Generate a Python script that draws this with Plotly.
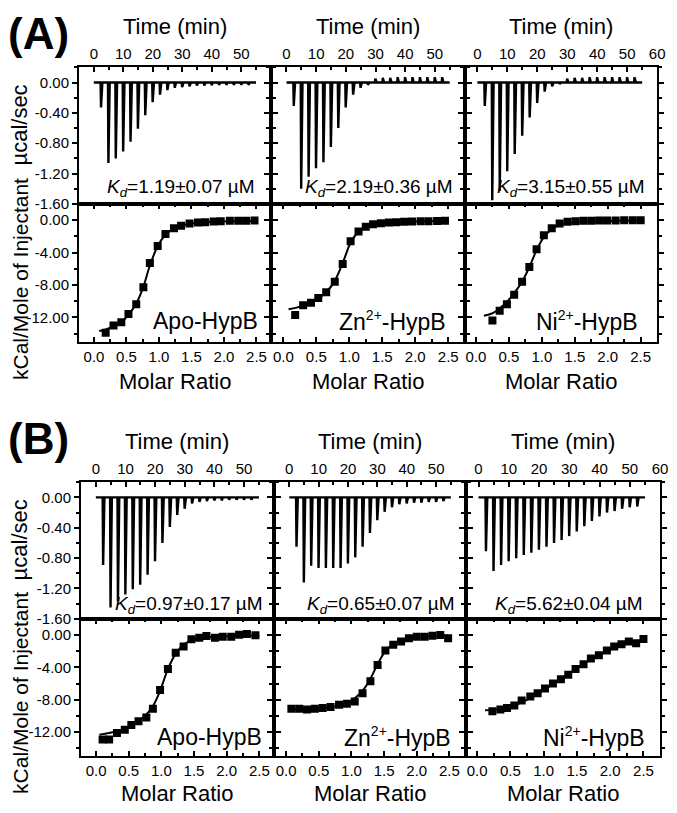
import plotly.graph_objects as go

# ---------------- data ----------------
inj_time = [2.3, 4.8, 7.3, 9.8, 12.3, 14.8, 17.3, 19.8, 22.3, 24.8, 27.3,
            29.8, 32.3, 34.8, 37.3, 39.8, 42.3, 44.8, 47.3, 49.8, 52.3]
run_start = 0.0
run_end = 55.0

# raw thermogram peak heights (µcal/sec)
raw_A_apo = [-0.33, -1.06, -1.00, -0.91, -0.78, -0.61, -0.43, -0.26, -0.16, -0.10, -0.07,
             -0.06, -0.05, -0.04, -0.04, -0.035, -0.03, -0.03, -0.03, -0.03, -0.03]
raw_A_zn = [-0.31, -1.40, -1.24, -1.13, -1.05, -0.85, -0.60, -0.33, -0.16, -0.07, -0.03,
            0.05, 0.06, 0.06, 0.07, 0.07, 0.07, 0.07, 0.07, 0.07, 0.07]
raw_A_ni = [-0.31, -1.55, -1.43, -1.17, -0.94, -0.70, -0.46, -0.27, -0.12, -0.05, -0.02,
            0.05, 0.06, 0.06, 0.07, 0.07, 0.07, 0.07, 0.07, 0.07, 0.07]
raw_B_apo = [-0.89, -1.45, -1.37, -1.28, -1.21, -1.15, -1.02, -0.84, -0.60, -0.39, -0.23,
             -0.15, -0.08, -0.06, -0.05, -0.04, -0.04, -0.03, -0.03, -0.03, -0.03]
raw_B_zn = [-0.65, -1.12, -0.90, -0.93, -0.93, -0.93, -0.93, -0.87, -0.79, -0.65, -0.47,
            -0.30, -0.19, -0.13, -0.09, -0.08, -0.07, -0.07, -0.06, -0.06, -0.05]
raw_B_ni = [-0.71, -0.97, -0.89, -0.84, -0.80, -0.76, -0.73, -0.69, -0.65, -0.60, -0.56,
            -0.51, -0.45, -0.38, -0.31, -0.25, -0.20, -0.18, -0.15, -0.13, -0.12]

# integrated heats (kcal/mol of injectant) vs molar ratio
A_apo_ratio = [0.18, 0.30, 0.42, 0.53, 0.65, 0.76, 0.86, 0.98, 1.10, 1.23, 1.34, 1.47, 1.60, 1.71,
               1.84, 1.95, 2.09, 2.22, 2.34, 2.47]
A_apo_heat = [-13.9, -13.0, -12.6, -11.6, -10.4, -8.3, -5.3, -3.2, -1.7, -1.0, -0.7, -0.4, -0.3,
              -0.25, -0.16, -0.12, -0.08, -0.08, -0.08, -0.04]
A_apo_fit_ratio = [0.08, 0.18, 0.30, 0.42, 0.53, 0.65, 0.76, 0.86, 0.98, 1.10, 1.23, 1.34, 1.47,
                   1.60, 1.84, 2.09, 2.47]
A_apo_fit_heat = [-13.7, -13.5, -13.1, -12.6, -11.7, -10.3, -8.2, -5.6, -3.2, -1.8, -1.0, -0.65,
                  -0.45, -0.32, -0.2, -0.12, -0.06]

A_zn_ratio = [0.18, 0.30, 0.42, 0.53, 0.65, 0.78, 0.90, 1.02, 1.14, 1.25, 1.36, 1.48, 1.60, 1.71,
              1.83, 1.95, 2.08, 2.20, 2.33, 2.45]
A_zn_heat = [-11.7, -10.5, -10.2, -9.6, -8.9, -7.6, -5.4, -2.6, -1.4, -0.8, -0.5, -0.37, -0.3,
             -0.25, -0.2, -0.17, -0.14, -0.12, -0.1, -0.08]
A_zn_fit_ratio = [0.08, 0.20, 0.35, 0.50, 0.65, 0.78, 0.90, 1.02, 1.14, 1.25, 1.40, 1.60, 2.00, 2.47]
A_zn_fit_heat = [-11.0, -10.8, -10.4, -9.8, -8.9, -7.5, -5.3, -2.8, -1.4, -0.8, -0.45, -0.28,
                 -0.15, -0.08]

A_ni_ratio = [0.25, 0.36, 0.47, 0.58, 0.70, 0.81, 0.92, 1.03, 1.15, 1.27, 1.39, 1.51, 1.63, 1.75,
              1.87, 1.99, 2.12, 2.25, 2.38, 2.50]
A_ni_heat = [-12.4, -11.2, -10.4, -9.2, -7.6, -5.8, -3.6, -1.85, -1.0, -0.4, -0.2, -0.12, -0.08,
             -0.06, -0.05, -0.04, -0.03, -0.02, -0.01, 0.0]
A_ni_fit_ratio = [0.12, 0.25, 0.36, 0.47, 0.58, 0.70, 0.81, 0.92, 1.03, 1.15, 1.27, 1.40, 1.60,
                  2.00, 2.50]
A_ni_fit_heat = [-11.8, -11.5, -10.9, -10.1, -9.0, -7.6, -5.8, -3.7, -2.1, -1.1, -0.6, -0.35,
                 -0.2, -0.1, -0.04]

B_apo_ratio = [0.10, 0.20, 0.32, 0.44, 0.54, 0.65, 0.77, 0.87, 0.98, 1.10, 1.22, 1.34, 1.46, 1.58,
               1.69, 1.82, 1.94, 2.07, 2.19, 2.31, 2.44]
B_apo_heat = [-12.9, -12.9, -12.1, -11.7, -11.1, -10.65, -10.2, -9.1, -6.8, -4.2, -2.2, -1.43,
              -0.53, -0.32, -0.12, -0.32, -0.2, -0.2, 0.05, 0.13, -0.03]
B_apo_fit_ratio = [0.05, 0.20, 0.35, 0.50, 0.65, 0.77, 0.87, 0.98, 1.10, 1.22, 1.34, 1.46, 1.58,
                   1.80, 2.20, 2.50]
B_apo_fit_heat = [-12.3, -12.1, -11.8, -11.3, -10.6, -9.8, -8.8, -6.9, -4.2, -2.3, -1.2, -0.65,
                  -0.4, -0.2, -0.1, -0.05]

B_zn_ratio = [0.08, 0.20, 0.32, 0.44, 0.56, 0.68, 0.81, 0.93, 1.05, 1.17, 1.29, 1.40, 1.52, 1.64,
              1.76, 1.88, 2.00, 2.12, 2.24, 2.36, 2.48]
B_zn_heat = [-9.1, -9.1, -9.2, -9.1, -9.0, -8.9, -8.6, -8.5, -8.2, -7.2, -5.7, -3.7, -1.9, -1.2,
             -0.8, -0.4, -0.2, -0.2, -0.1, 0.0, -0.4]
B_zn_fit_ratio = [0.05, 0.30, 0.60, 0.80, 0.95, 1.05, 1.17, 1.29, 1.40, 1.52, 1.64, 1.76, 1.88,
                  2.10, 2.48]
B_zn_fit_heat = [-9.15, -9.12, -9.0, -8.75, -8.35, -7.8, -6.9, -5.4, -3.6, -2.0, -1.1, -0.6,
                 -0.35, -0.15, -0.05]

B_ni_ratio = [0.23, 0.35, 0.45, 0.56, 0.67, 0.80, 0.91, 1.02, 1.14, 1.26, 1.37, 1.48, 1.60, 1.71,
              1.83, 1.95, 2.06, 2.17, 2.28, 2.39, 2.50]
B_ni_heat = [-9.4, -9.2, -9.0, -8.7, -8.1, -7.6, -7.2, -6.6, -6.0, -5.45, -4.9, -4.2, -3.6, -2.9,
             -2.5, -1.9, -1.4, -1.15, -0.8, -1.0, -0.5]
B_ni_fit_ratio = [0.12, 0.35, 0.56, 0.80, 1.02, 1.26, 1.48, 1.71, 1.95, 2.17, 2.50]
B_ni_fit_heat = [-9.3, -9.15, -8.7, -7.8, -6.7, -5.4, -4.2, -3.0, -2.0, -1.3, -0.6]

sample_names = ["Apo-HypB",
                "Zn<sup><span style='font-size:14px'>2+</span></sup>-HypB",
                "Ni<sup><span style='font-size:14px'>2+</span></sup>-HypB"]
kd_A = ["1.19±0.07 µM", "2.19±0.36 µM", "3.15±0.55 µM"]
kd_B = ["0.97±0.17 µM", "0.65±0.07 µM", "5.62±0.04 µM"]

time_ticks_short = [0, 10, 20, 30, 40, 50]
time_ticks_long = [0, 10, 20, 30, 40, 50, 60]
raw_yticks = [0.0, -0.4, -0.8, -1.2, -1.6]
raw_ytext = ["0.00", "-0.40", "-0.80", "-1.20", "-1.60"]
heat_yticks = [0, -4, -8, -12]
heat_ytext = ["0.00", "-4.00", "-8.00", "-12.00"]
ratio_ticks = [0, 0.5, 1.0, 1.5, 2.0, 2.5]
ratio_text = ["0.0", "0.5", "1.0", "1.5", "2.0", "2.5"]

# ---------------- layout constants ----------------
W, H = 677, 813
FONT = "Liberation Sans, Arial, Helvetica, sans-serif"
time_ranges = [[-5, 60], [-5.3, 60.3], [-4, 60]]
ratio_ranges = [[-0.23, 2.72], [-0.19, 2.76], [-0.16, 2.75]]

sections = [
    dict(tag="(A)", tag_y=34, time_title_y=27, top=68, mid=206, bot=345, ratio_title_y=385,
         kd_y=190, name_y=324, ycal_y=126, ykcal_y=282, cols=[80, 274, 471, 665],
         kd_right=[260, 460, 655], name_right=[263, 453, 648], kd=kd_A,
         raw=[raw_A_apo, raw_A_zn, raw_A_ni],
         pts=[(A_apo_ratio, A_apo_heat), (A_zn_ratio, A_zn_heat), (A_ni_ratio, A_ni_heat)],
         fit=[(A_apo_fit_ratio, A_apo_fit_heat), (A_zn_fit_ratio, A_zn_fit_heat),
              (A_ni_fit_ratio, A_ni_fit_heat)]),
    dict(tag="(B)", tag_y=443, time_title_y=446, top=487, mid=625, bot=764, ratio_title_y=801,
         kd_y=611, name_y=744, ycal_y=545, ykcal_y=700, cols=[82, 277, 472, 668],
         kd_right=[268, 462, 653], name_right=[267, 458, 655], kd=kd_B,
         raw=[raw_B_apo, raw_B_zn, raw_B_ni],
         pts=[(B_apo_ratio, B_apo_heat), (B_zn_ratio, B_zn_heat), (B_ni_ratio, B_ni_heat)],
         fit=[(B_apo_fit_ratio, B_apo_fit_heat), (B_zn_fit_ratio, B_zn_fit_heat),
              (B_ni_fit_ratio, B_ni_fit_heat)]),
]


def thermogram(times, peaks):
    xs, ys = [run_start], [0.0]
    for t, p in zip(times, peaks):
        xs += [t, t + 0.15, t + 0.6]
        ys += [0.0, p, 0.0]
    xs.append(run_end)
    ys.append(0.0)
    return xs, ys


def px(x):
    return x / W


def py(y):
    return 1 - y / H


fig = go.Figure()
layout = {}
annotations = []
tickfont = dict(family=FONT, size=15, color="black")
n = 0
for s in sections:
    for c in range(3):
        x0, x1 = s["cols"][c], s["cols"][c + 1]
        # ---- top panel: raw thermogram ----
        n += 1
        ax = "" if n == 1 else str(n)
        tx, ty = thermogram(inj_time, s["raw"][c])
        fig.add_trace(go.Scatter(x=tx, y=ty, mode="lines", xaxis="x" + ax, yaxis="y" + ax,
                                 line=dict(color="black", width=2.4), showlegend=False,
                                 hoverinfo="skip"))
        tv = time_ticks_long if c == 2 else time_ticks_short
        layout["xaxis" + ax] = dict(
            domain=[px(x0), px(x1)], anchor="y" + ax, side="top", range=time_ranges[c],
            tickmode="array", tickvals=tv, ticktext=[str(v) for v in tv],
            ticks="inside", ticklen=5, tickwidth=1.5, tickcolor="black",
            minor=dict(tickmode="linear", tick0=0, dtick=5, ticks="inside", ticklen=3,
                       tickwidth=1.5, tickcolor="black", showgrid=False),
            showline=True, linewidth=2, linecolor="black", mirror=True,
            showgrid=False, zeroline=False, tickfont=tickfont)
        layout["yaxis" + ax] = dict(
            domain=[py(s["mid"]), py(s["top"])], anchor="x" + ax, range=[-1.6, 0.2],
            tickmode="array", tickvals=raw_yticks, ticktext=raw_ytext,
            showticklabels=(c == 0),
            ticks="outside", ticklen=5, tickwidth=1.5, tickcolor="black",
            minor=dict(tickmode="linear", tick0=0, dtick=0.2, ticks="outside", ticklen=3,
                       tickwidth=1.5, tickcolor="black", showgrid=False),
            showline=True, linewidth=2, linecolor="black", mirror="ticks",
            showgrid=False, zeroline=False, tickfont=tickfont)
        annotations.append(dict(
            text="<i>K<sub>d</sub></i>=" + s["kd"][c], x=px(s["kd_right"][c]), y=py(s["kd_y"]),
            xref="paper", yref="paper", xanchor="right", yanchor="middle", showarrow=False,
            font=dict(family=FONT, size=19, color="black")))
        annotations.append(dict(
            text="Time (min)", x=px((x0 + x1) / 2), y=py(s["time_title_y"]), xref="paper",
            yref="paper", xanchor="center", yanchor="middle", showarrow=False,
            font=dict(family=FONT, size=22, color="black")))

        # ---- bottom panel: integrated heats ----
        n += 1
        ax = str(n)
        rx, rh = s["pts"][c]
        fx, fh = s["fit"][c]
        fig.add_trace(go.Scatter(x=fx, y=fh, mode="lines", xaxis="x" + ax, yaxis="y" + ax,
                                 line=dict(color="black", width=2, shape="spline", smoothing=1),
                                 showlegend=False, hoverinfo="skip"))
        fig.add_trace(go.Scatter(x=rx, y=rh, mode="markers", xaxis="x" + ax, yaxis="y" + ax,
                                 marker=dict(symbol="square", size=8, color="black"),
                                 showlegend=False, hoverinfo="skip"))
        layout["xaxis" + ax] = dict(
            domain=[px(x0), px(x1)], anchor="y" + ax, side="bottom", range=ratio_ranges[c],
            tickmode="array", tickvals=ratio_ticks, ticktext=ratio_text,
            ticks="inside", ticklen=5, tickwidth=1.5, tickcolor="black",
            minor=dict(tickmode="linear", tick0=0, dtick=0.25, ticks="inside", ticklen=3,
                       tickwidth=1.5, tickcolor="black", showgrid=False),
            showline=True, linewidth=2, linecolor="black", mirror="ticks",
            showgrid=False, zeroline=False, tickfont=tickfont)
        layout["yaxis" + ax] = dict(
            domain=[py(s["bot"]), py(s["mid"])], anchor="x" + ax, range=[-15, 2],
            tickmode="array", tickvals=heat_yticks, ticktext=heat_ytext,
            showticklabels=(c == 0),
            ticks="outside", ticklen=5, tickwidth=1.5, tickcolor="black",
            minor=dict(tickmode="linear", tick0=0, dtick=2, ticks="outside", ticklen=3,
                       tickwidth=1.5, tickcolor="black", showgrid=False),
            showline=True, linewidth=2, linecolor="black", mirror="ticks",
            showgrid=False, zeroline=False, tickfont=tickfont)
        annotations.append(dict(
            text=sample_names[c], x=px(s["name_right"][c]), y=py(s["name_y"]),
            xref="paper", yref="paper", xanchor="right", yanchor="middle", showarrow=False,
            font=dict(family=FONT, size=23, color="black")))
        annotations.append(dict(
            text="Molar Ratio", x=px((x0 + x1) / 2), y=py(s["ratio_title_y"]), xref="paper",
            yref="paper", xanchor="center", yanchor="middle", showarrow=False,
            font=dict(family=FONT, size=22, color="black")))

    annotations.append(dict(
        text="<b>" + s["tag"] + "</b>", x=px(39), y=py(s["tag_y"]), xref="paper", yref="paper",
        xanchor="center", yanchor="middle", showarrow=False,
        font=dict(family=FONT, size=44, color="black")))
    annotations.append(dict(
        text="µcal/sec", x=px(20), y=py(s["ycal_y"]), xref="paper", yref="paper",
        xanchor="center", yanchor="middle", textangle=-90, showarrow=False,
        font=dict(family=FONT, size=22, color="black")))
    annotations.append(dict(
        text="kCal/Mole of Injectant", x=px(20), y=py(s["ykcal_y"]), xref="paper",
        yref="paper", xanchor="center", yanchor="middle", textangle=-90, showarrow=False,
        font=dict(family=FONT, size=21, color="black")))

fig.update_layout(
    width=W, height=H, margin=dict(l=0, r=0, t=0, b=0),
    paper_bgcolor="white", plot_bgcolor="white",
    font=dict(family=FONT, color="black"),
    annotations=annotations, showlegend=False, **layout)

fig.write_html("out.html", config={"displayModeBar": False},
               post_script="document.body.style.margin='0';document.body.style.overflow='hidden';")
